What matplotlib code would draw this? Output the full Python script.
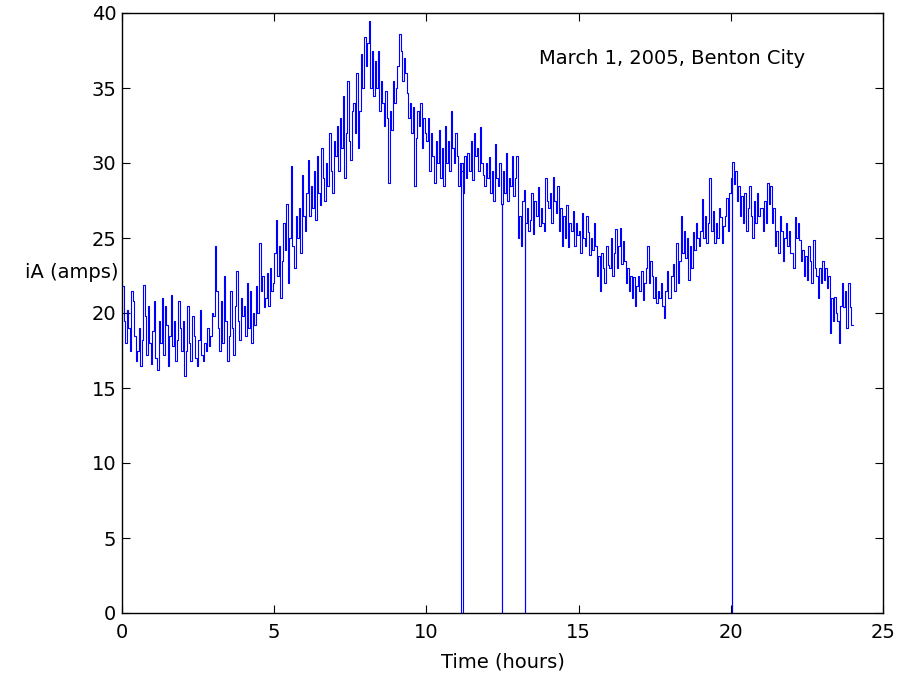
import matplotlib
matplotlib.use('Agg')
import matplotlib.pyplot as plt
import numpy as np

plt.rcParams['font.family'] = ['DejaVu Sans']

# phase A current, one sample every 3 minutes (20 per hour)
step_h = 0.05
iA = [
    21.8, 19.5, 18.0, 20.2, 19.0, 17.5, 21.5, 20.8, 18.5, 16.8, 17.5, 19.0, 16.5, 18.2, 21.9, 19.8, 17.2, 20.5, 18.0, 16.6,  # 0 h
    18.8, 20.8, 17.0, 16.2, 19.5, 18.0, 21.0, 17.2, 20.5, 19.2, 16.5, 18.5, 21.2, 17.8, 19.5, 16.8, 18.2, 20.8, 19.0, 17.5,  # 1 h
    19.5, 15.8, 17.5, 20.5, 18.0, 16.8, 19.8, 18.5, 17.0, 16.5, 18.2, 20.2, 17.2, 16.8, 18.0, 17.5, 19.0, 17.8, 18.5, 20.0,  # 2 h
    19.8, 24.5, 21.5, 19.0, 17.5, 20.8, 18.0, 22.5, 19.5, 16.8, 18.5, 21.5, 19.0, 17.2, 20.5, 22.8, 19.5, 18.2, 21.0, 19.8,  # 3 h
    20.5, 18.5, 22.0, 19.0, 21.5, 18.0, 20.0, 19.2, 21.8, 20.0, 24.7, 21.5, 22.5, 20.4, 21.0, 22.7, 20.5, 23.0, 21.5, 22.0,  # 4 h
    24.0, 26.2, 22.5, 24.5, 21.0, 23.5, 26.0, 24.2, 27.3, 22.0, 25.0, 29.8, 24.5, 23.0, 26.5, 25.0, 27.0, 24.0, 29.2, 26.5,  # 5 h
    25.5, 28.0, 30.2, 26.5, 28.5, 27.0, 29.5, 26.2, 30.5, 28.0, 27.2, 31.0, 29.0, 27.5, 30.0, 28.5, 32.0, 29.5, 28.0, 31.5,  # 6 h
    30.5, 32.5, 29.5, 33.0, 31.0, 34.5, 29.0, 32.0, 35.5, 31.5, 30.2, 33.5, 34.0, 32.0, 36.0, 31.0, 33.5, 37.3, 35.0, 38.4,  # 7 h
    36.5, 38.0, 39.5, 35.0, 37.5, 34.5, 36.8, 35.0, 37.5, 33.5, 35.5, 34.0, 32.5, 34.8, 33.0, 28.7, 33.5, 32.2, 35.5, 34.0,  # 8 h
    35.0, 36.5, 38.6, 37.5, 35.5, 37.0, 36.0, 34.7, 33.0, 34.0, 32.0, 33.7, 28.5, 31.7, 33.5, 32.5, 34.0, 31.0, 33.0, 32.0,  # 9 h
    31.5, 33.0, 29.5, 32.0, 30.5, 28.7, 31.5, 30.0, 32.2, 29.0, 31.0, 28.5, 32.5, 30.0, 31.5, 29.5, 33.5, 31.0, 30.0, 32.0,  # 10 h
    30.5, 28.5, 30.0, 29.5, 28.0, 30.5, 29.0, 30.7, 29.5, 31.5, 28.9, 32.0, 30.5, 31.0, 29.5, 32.4, 30.0, 29.2, 28.5, 30.0,  # 11 h
    29.0, 30.4, 28.0, 29.5, 27.5, 31.3, 29.0, 28.5, 30.0, 27.3, 29.5, 28.0, 30.7, 27.5, 29.0, 28.5, 30.5, 27.8, 29.0, 30.5,  # 12 h
    25.0, 26.5, 24.5, 27.5, 28.2, 26.0, 27.0, 25.5, 26.2, 28.0, 25.3, 27.5, 26.5, 28.4, 25.8, 27.0, 26.0, 25.5, 29.0, 27.5,  # 13 h
    27.0, 28.0, 26.0, 29.1, 27.5, 26.7, 28.5, 25.5, 27.0, 24.5, 26.5, 25.0, 27.2, 24.4, 26.0, 25.5, 26.8, 24.5, 26.0, 25.2,  # 14 h
    25.5, 24.0, 26.7, 25.0, 24.5, 26.5, 25.4, 23.9, 25.0, 24.2, 26.0, 24.5, 22.5, 23.8, 21.5, 24.0, 23.0, 22.0, 24.5, 23.2,  # 15 h
    23.0, 25.0, 22.5, 24.0, 25.6, 23.0, 24.5, 25.7, 23.3, 24.8, 23.5, 22.0, 23.0, 21.5, 22.5, 21.0, 22.4, 20.5, 21.8, 22.5,  # 16 h
    21.5, 22.8, 20.9, 22.0, 23.0, 24.5, 22.0, 23.5, 22.5, 21.0, 22.4, 20.7, 21.5, 21.0, 22.0, 20.5, 19.7, 21.5, 22.8, 21.0,  # 17 h
    21.0, 22.5, 23.3, 21.5, 24.7, 22.0, 23.5, 26.5, 24.0, 25.5, 23.7, 25.0, 22.2, 24.5, 23.0, 25.4, 24.2, 26.0, 25.0, 24.5,  # 18 h
    25.5, 27.6, 25.0, 26.5, 24.7, 26.0, 29.0, 25.5, 26.8, 24.7, 26.0, 25.0, 27.0, 26.4, 24.7, 25.8, 26.5, 27.7, 25.5, 28.0,  # 19 h
    29.0, 30.1, 28.6, 29.5, 27.5, 28.5, 26.5, 27.8, 26.0, 28.0, 25.5, 27.0, 28.5, 26.5, 25.0, 27.5, 26.0, 28.0, 26.5, 27.0,  # 20 h
    27.0, 25.5, 27.5, 26.0, 28.7, 27.3, 28.5, 26.0, 27.0, 24.5, 25.5, 24.0, 26.5, 25.5, 23.5, 25.0, 26.0, 24.5, 25.5, 24.0,  # 21 h
    24.0, 23.0, 26.4, 25.0, 26.0, 24.9, 23.5, 24.2, 22.5, 23.8, 22.2, 24.5, 23.5, 22.0, 24.9, 23.0, 22.5, 21.0, 23.0, 22.0,  # 22 h
    23.5, 22.2, 23.0, 21.7, 22.5, 18.7, 21.0, 19.5, 21.1, 20.0, 19.5, 18.0, 20.5, 22.0, 20.4, 21.5, 19.0, 22.0, 20.4, 19.2,  # 23 h
]

# short drops of the reading to zero: (start, end) in hours
dropouts = [(11.13, 11.19), (12.49, 12.495), (13.25, 13.255), (20.03, 20.035)]

t = np.arange(len(iA)) * step_h
y = np.array(iA, dtype=float)
# hold the last sample to the end of the day
t = np.append(t, len(iA) * step_h)
y = np.append(y, y[-1])

for t0, t1 in dropouts:
    k = np.searchsorted(t, t0)
    v = y[k - 1]
    t = np.insert(t, k, [t0, t1])
    y = np.insert(y, k, [0.0, v])

fig = plt.figure(figsize=(9.02, 6.8), dpi=100)
ax = fig.add_axes([122 / 902, 67 / 680, 761 / 902, 600 / 680])

ax.plot(t, y, drawstyle='steps-post', color='#0000ff', linewidth=0.8)

ax.set_xlim(0, 25)
ax.set_ylim(0, 40)
ax.set_xticks(np.arange(0, 26, 5))
ax.set_yticks(np.arange(0, 41, 5))
ax.tick_params(direction='in', length=6, width=0.8, top=True, right=True,
               labelsize=14)
ax.tick_params(axis='x', pad=7)
ax.tick_params(axis='y', pad=4)
for s in ax.spines.values():
    s.set_linewidth(1.0)

ax.set_xlabel('Time (hours)', fontsize=14, va='center')
ax.xaxis.set_label_coords(0.5, -49 / 600)
ax.set_ylabel('iA (amps)', fontsize=14, rotation=0, ha='right', va='center')
ax.yaxis.set_label_coords(-0.005, (613 - 272) / 600)

ax.text(18.08, 37.0, 'March 1, 2005, Benton City', fontsize=14,
        ha='center', va='center')

fig.savefig('out.png', dpi=100)
